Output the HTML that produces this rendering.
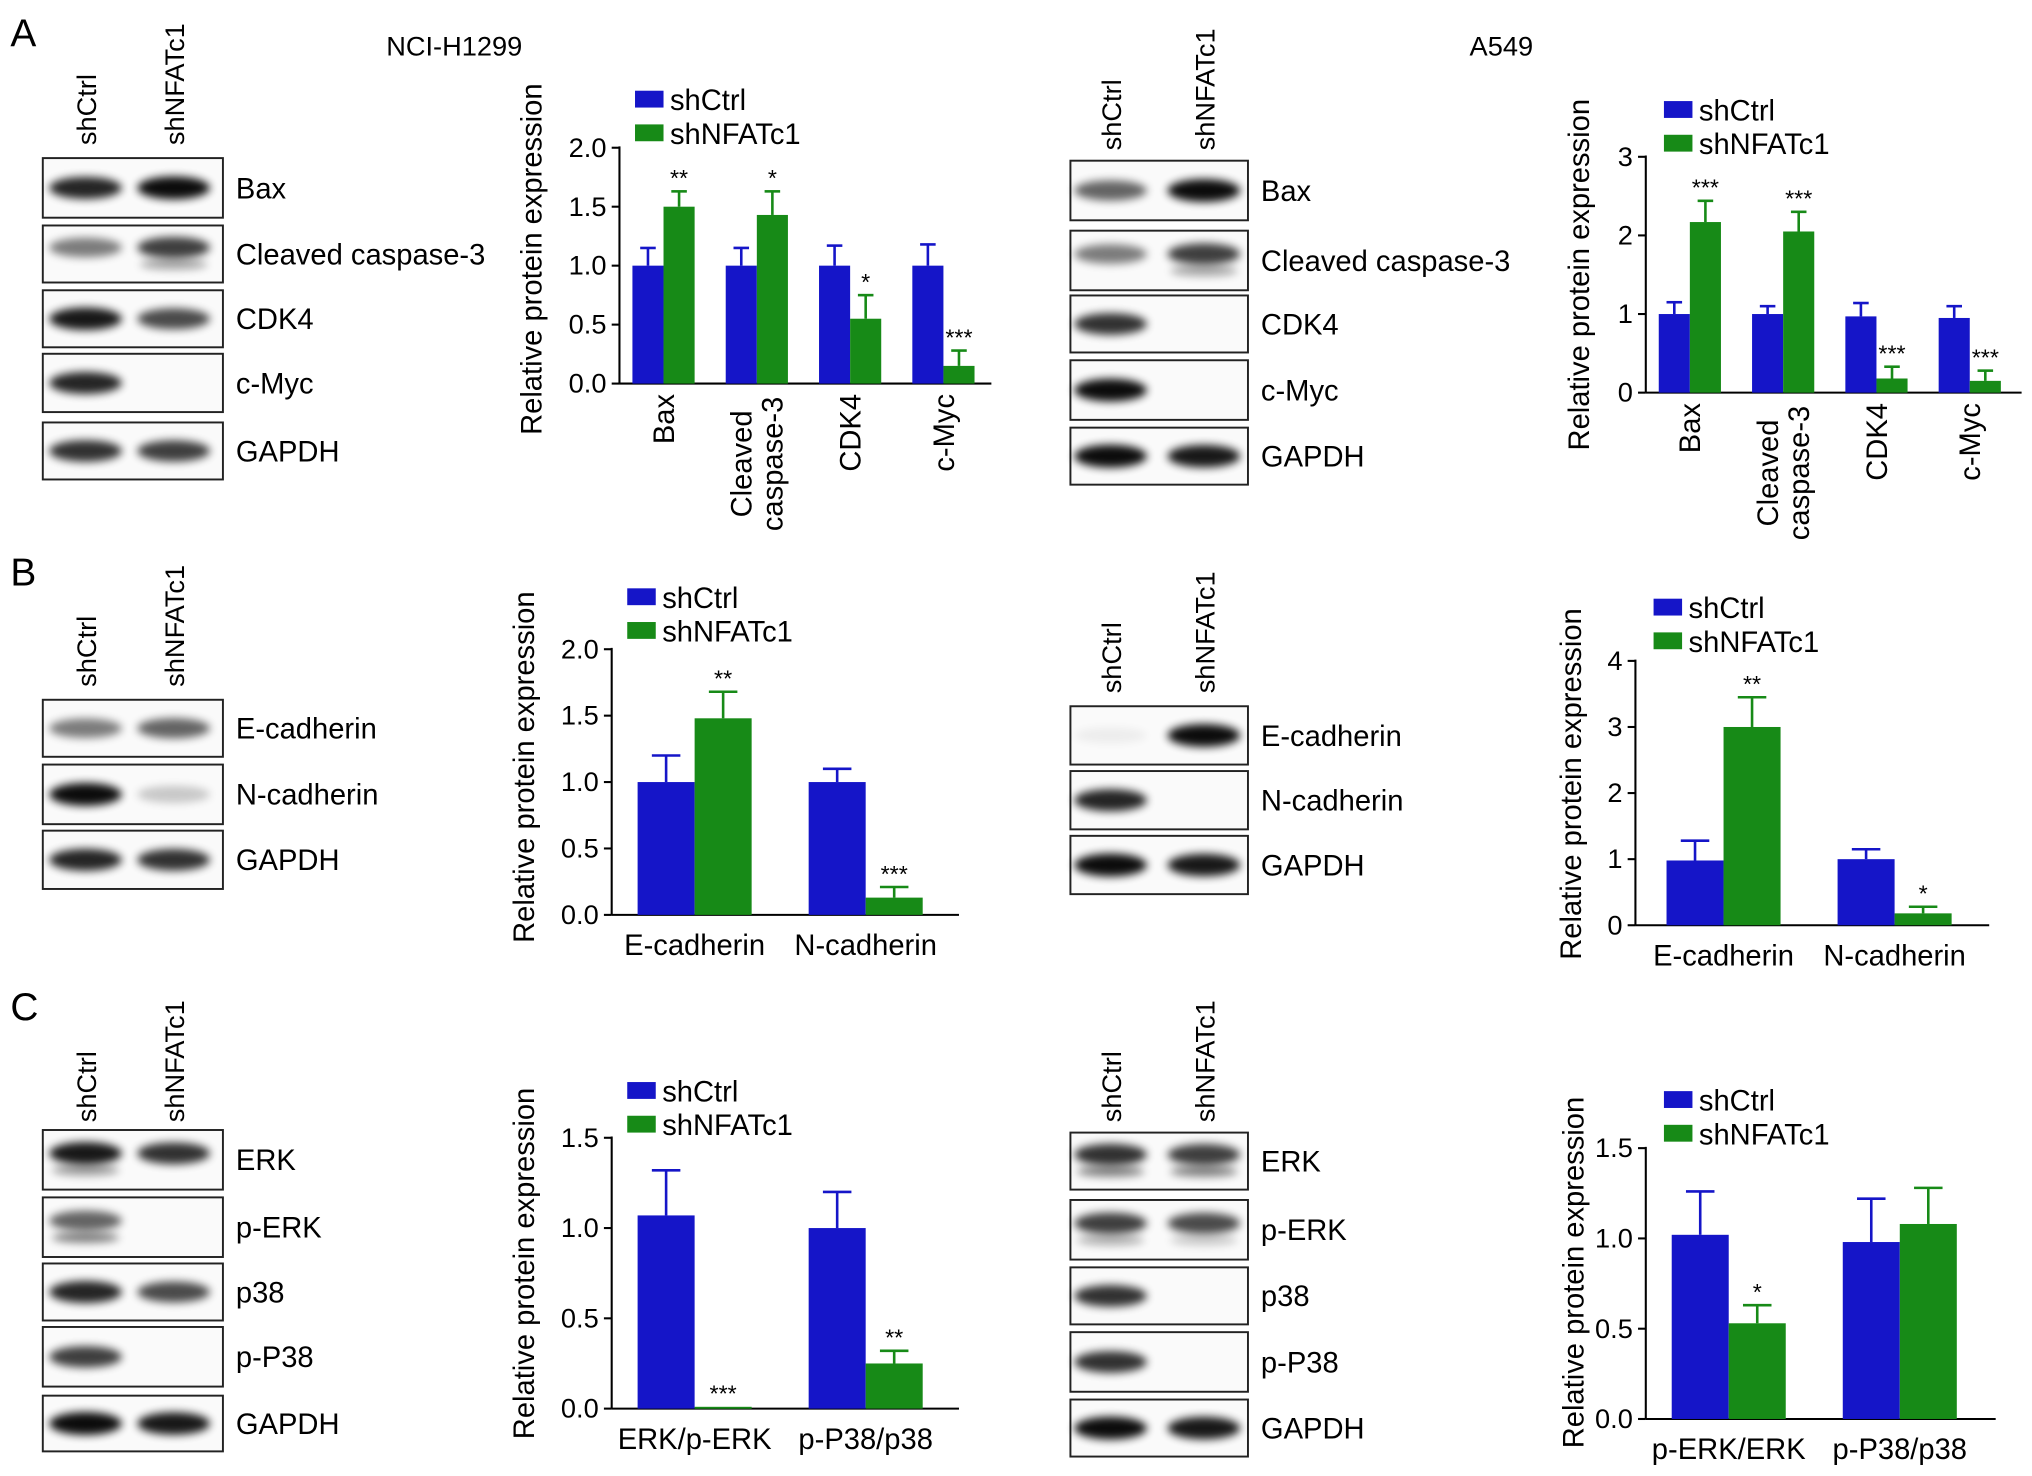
<!DOCTYPE html>
<html><head><meta charset="utf-8">
<style>
html,body{margin:0;padding:0;background:#fff;}
svg{display:block;font-family:"Liberation Sans",Arial,sans-serif;}
</style></head>
<body>
<svg id="fig" width="2032" height="1476" viewBox="0 0 1568 1139" xmlns="http://www.w3.org/2000/svg">
<defs>
<filter id="blur" x="-50%" y="-100%" width="200%" height="300%"><feGaussianBlur stdDeviation="3.2"/></filter>
</defs>
<text x="8" y="36" font-size="30">A</text>
<text x="8" y="452" font-size="30">B</text>
<text x="8" y="787" font-size="30">C</text>
<text x="298" y="43" font-size="21">NCI-H1299</text>
<text x="1134" y="43" font-size="21">A549</text>
</svg>
<script>
// ---------- chart data ----------
const a1Cats = ["Bax", "Cleaved caspase-3", "CDK4", "c-Myc"];
const a1Ctrl = [1.0, 1.0, 1.0, 1.0];
const a1CtrlErr = [0.15, 0.15, 0.17, 0.18];
const a1Sh = [1.5, 1.43, 0.55, 0.15];
const a1ShErr = [0.13, 0.2, 0.2, 0.13];
const a1Sig = ["**", "*", "*", "***"];
const a1Ticks = [0, 0.5, 1.0, 1.5, 2.0];

const a2Cats = ["Bax", "Cleaved caspase-3", "CDK4", "c-Myc"];
const a2Ctrl = [1.0, 1.0, 0.97, 0.95];
const a2CtrlErr = [0.15, 0.1, 0.17, 0.15];
const a2Sh = [2.17, 2.05, 0.18, 0.15];
const a2ShErr = [0.27, 0.25, 0.15, 0.13];
const a2Sig = ["***", "***", "***", "***"];
const a2Ticks = [0, 1, 2, 3];

const b1Cats = ["E-cadherin", "N-cadherin"];
const b1Ctrl = [1.0, 1.0];
const b1CtrlErr = [0.2, 0.1];
const b1Sh = [1.48, 0.13];
const b1ShErr = [0.2, 0.08];
const b1Sig = ["**", "***"];
const b1Ticks = [0, 0.5, 1.0, 1.5, 2.0];

const b2Cats = ["E-cadherin", "N-cadherin"];
const b2Ctrl = [0.98, 1.0];
const b2CtrlErr = [0.3, 0.15];
const b2Sh = [3.0, 0.18];
const b2ShErr = [0.45, 0.1];
const b2Sig = ["**", "*"];
const b2Ticks = [0, 1, 2, 3, 4];

const c1Cats = ["ERK/p-ERK", "p-P38/p38"];
const c1Ctrl = [1.07, 1.0];
const c1CtrlErr = [0.25, 0.2];
const c1Sh = [0.01, 0.25];
const c1ShErr = [0.0, 0.07];
const c1Sig = ["***", "**"];
const c1Ticks = [0, 0.5, 1.0, 1.5];

const c2Cats = ["p-ERK/ERK", "p-P38/p38"];
const c2Ctrl = [1.02, 0.98];
const c2CtrlErr = [0.24, 0.24];
const c2Sh = [0.53, 1.08];
const c2ShErr = [0.1, 0.2];
const c2Sig = ["*", ""];
const c2Ticks = [0, 0.5, 1.0, 1.5];

const BLUE = "#1515c8", GREEN = "#178a17";
const FS = 22.5;
const svg = document.getElementById("fig");
const NS = "http://www.w3.org/2000/svg";
function mk(tag, attrs, parent) {
  const e = document.createElementNS(NS, tag);
  for (const k in attrs) e.setAttribute(k, attrs[k]);
  (parent || svg).appendChild(e);
  return e;
}

function chart(id, g, cats, ctrl, ctrlErr, sh, shErr, sig, ticks) {
  const grp = mk("g", {});
  
  
  const ymax = ticks[ticks.length - 1];
  const ys = v => g.y0 - (v / ymax) * (g.y0 - g.ytop);
  const ya = mk("line", {x1: g.x0, y1: g.ytop - 1, x2: g.x0, y2: g.y0, stroke: "#000", "stroke-width": 1.6}, grp);
  
  
  const xa = mk("line", {x1: g.x0, y1: g.y0, x2: g.xend, y2: g.y0, stroke: "#000", "stroke-width": 1.6}, grp);
  
  
  ticks.forEach(t => {
    const y = ys(t);
    mk("line", {x1: g.x0 - 6, y1: y, x2: g.x0, y2: y, stroke: "#000", "stroke-width": 1.6}, grp);
    const tl = mk("text", {x: g.x0 - 10, y: y + 7, "font-size": 21, "text-anchor": "end"}, grp);
    tl.textContent = g.dec ? t.toFixed(1) : String(t);
    
    
  });
  const yt = mk("text", {x: 0, y: 0, "font-size": FS, "text-anchor": "middle", transform: `translate(${g.ytx},${g.yty}) rotate(-90)`}, grp);
  yt.textContent = "Relative protein expression";
  
  
  cats.forEach((c, i) => {
    const gx = g.gx0 + i * g.gstep;
    [[ctrl[i], ctrlErr[i], BLUE, gx, 'ctrl'], [sh[i], shErr[i], GREEN, gx + g.bw, 'sh']].forEach(([v, e, col, bx, nm], j) => {
      const cx = bx + g.bw / 2;
      const ey = ys(v + e);
      if (e > 0) {
        mk("line", {x1: cx, y1: ys(v), x2: cx, y2: ey, stroke: col, "stroke-width": 2}, grp);
        mk("line", {x1: cx - g.bw * 0.25, y1: ey, x2: cx + g.bw * 0.25, y2: ey, stroke: col, "stroke-width": 2}, grp);
      }
      const r = mk("rect", {x: bx, y: ys(v), width: g.bw, height: Math.max(g.y0 - ys(v), 1.5), fill: col}, grp);
      
      
      if (j === 1 && sig[i]) {
        const s = mk("text", {x: cx, y: ey - 4, "font-size": 18, "text-anchor": "middle"}, grp);
        s.textContent = sig[i];
        
        
      }
    });
    if (g.rot) {
      const cx = gx + g.bw;
      const parts = c === "Cleaved caspase-3" ? ["Cleaved", "caspase-3"] : [c];
      parts.forEach((p, k) => {
        const off = (k - (parts.length - 1) / 2) * 24;
        const lx = cx + off + 8;
        const t = mk("text", {x: 0, y: 0, "font-size": FS, "text-anchor": parts.length > 1 ? "middle" : "end",
          transform: parts.length > 1 ? `translate(${lx},${g.y0 + 62}) rotate(-90)` : `translate(${lx},${g.y0 + 8}) rotate(-90)`}, grp);
        t.textContent = p;
        
        
      });
    } else {
      const t = mk("text", {x: gx + g.bw, y: g.y0 + 31, "font-size": FS, "text-anchor": "middle"}, grp);
      t.textContent = c;
      
      
    }
  });
  [["shCtrl", BLUE], ["shNFATc1", GREEN]].forEach(([n, col], k) => {
    const y = g.ly + k * 26;
    const lr = mk("rect", {x: g.lx, y: y - 8, width: 22, height: 13, fill: col}, grp);
    
    
    const lt = mk("text", {x: g.lx + 27, y: y + 7, "font-size": FS}, grp);
    lt.textContent = n;
    
    
  });
}

chart("a1", {x0: 478, y0: 296, ytop: 114, xend: 765, gx0: 488, gstep: 72, bw: 24, dec: true, rot: true, ytx: 418, yty: 200, lx: 490, ly: 78}, a1Cats, a1Ctrl, a1CtrlErr, a1Sh, a1ShErr, a1Sig, a1Ticks);
chart("a2", {x0: 1270, y0: 303, ytop: 121, xend: 1560, gx0: 1280, gstep: 72, bw: 24, dec: false, rot: true, ytx: 1226, yty: 212, lx: 1284, ly: 86}, a2Cats, a2Ctrl, a2CtrlErr, a2Sh, a2ShErr, a2Sig, a2Ticks);
chart("b1", {x0: 472, y0: 706, ytop: 501, xend: 740, gx0: 492, gstep: 132, bw: 44, dec: true, rot: false, ytx: 412, yty: 592, lx: 484, ly: 462}, b1Cats, b1Ctrl, b1CtrlErr, b1Sh, b1ShErr, b1Sig, b1Ticks);
chart("b2", {x0: 1262, y0: 714, ytop: 510, xend: 1535, gx0: 1286, gstep: 132, bw: 44, dec: false, rot: false, ytx: 1220, yty: 605, lx: 1276, ly: 470}, b2Cats, b2Ctrl, b2CtrlErr, b2Sh, b2ShErr, b2Sig, b2Ticks);
chart("c1", {x0: 472, y0: 1087, ytop: 878, xend: 740, gx0: 492, gstep: 132, bw: 44, dec: true, rot: false, ytx: 412, yty: 975, lx: 484, ly: 843}, c1Cats, c1Ctrl, c1CtrlErr, c1Sh, c1ShErr, c1Sig, c1Ticks);
chart("c2", {x0: 1270, y0: 1095, ytop: 886, xend: 1540, gx0: 1290, gstep: 132, bw: 44, dec: true, rot: false, ytx: 1222, yty: 982, lx: 1284, ly: 850}, c2Cats, c2Ctrl, c2CtrlErr, c2Sh, c2ShErr, c2Sig, c2Ticks);

function blot(id, x, w, lanes, colY, rows) {
  const grp = mk("g", {});
  
  
  ["shCtrl", "shNFATc1"].forEach((n, k) => {
    const t = mk("text", {x: 0, y: 0, "font-size": 21, transform: `translate(${lanes[k] + 8},${colY}) rotate(-90)`}, grp);
    t.textContent = n;
    
    
  });
  rows.forEach(r => {
    const [name, y0, y1, ints, dbl] = r;
    const box = mk("rect", {x: x, y: y0, width: w, height: y1 - y0, fill: "#fafafa", stroke: "#222", "stroke-width": 1.5}, grp);
    
    
    const cy = (y0 + y1) / 2;
    lanes.forEach((lx, k) => {
      const v = ints[k];
      if (v > 0) {
        mk("ellipse", {cx: lx, cy: dbl ? cy - 5 : cy, rx: 28, ry: 6 + 3 * v, fill: "#000", opacity: v, filter: "url(#blur)"}, grp);
        if (dbl && dbl[k] > 0) mk("ellipse", {cx: lx, cy: cy + 8, rx: 26, ry: 4, fill: "#000", opacity: dbl[k], filter: "url(#blur)"}, grp);
      }
    });
    const t = mk("text", {x: x + w + 10, y: cy + 8, "font-size": FS}, grp);
    t.textContent = name;
    
    
  });
}
const L1 = [66, 134], L2 = [857, 929];
blot("a-h1299", 33, 139, L1, 112, [
  ["Bax", 122, 168, [0.85, 0.95]],
  ["Cleaved caspase-3", 174, 218, [0.5, 0.75], [0, 0.35]],
  ["CDK4", 224, 268, [0.9, 0.7]],
  ["c-Myc", 273, 318, [0.85, 0]],
  ["GAPDH", 326, 370, [0.8, 0.75]]
]);
blot("a-a549", 826, 137, L2, 116, [
  ["Bax", 124, 170, [0.6, 0.95]],
  ["Cleaved caspase-3", 178, 224, [0.5, 0.75], [0, 0.35]],
  ["CDK4", 228, 272, [0.8, 0]],
  ["c-Myc", 278, 324, [0.95, 0]],
  ["GAPDH", 330, 374, [0.95, 0.9]]
]);
blot("b-h1299", 33, 139, L1, 530, [
  ["E-cadherin", 540, 584, [0.5, 0.6]],
  ["N-cadherin", 590, 636, [0.95, 0.2]],
  ["GAPDH", 641, 686, [0.85, 0.8]]
]);
blot("b-a549", 826, 137, L2, 535, [
  ["E-cadherin", 545, 590, [0.05, 0.95]],
  ["N-cadherin", 595, 640, [0.85, 0]],
  ["GAPDH", 645, 690, [0.95, 0.9]]
]);
blot("c-h1299", 33, 139, L1, 866, [
  ["ERK", 872, 918, [0.9, 0.8], [0.4, 0]],
  ["p-ERK", 924, 970, [0.6, 0], [0.5, 0]],
  ["p38", 975, 1019, [0.85, 0.7]],
  ["p-P38", 1024, 1070, [0.75, 0]],
  ["GAPDH", 1077, 1120, [0.95, 0.9]]
]);
blot("c-a549", 826, 137, L2, 866, [
  ["ERK", 874, 918, [0.8, 0.75], [0.5, 0.5]],
  ["p-ERK", 926, 972, [0.75, 0.7], [0.3, 0.2]],
  ["p38", 978, 1022, [0.8, 0]],
  ["p-P38", 1028, 1074, [0.8, 0]],
  ["GAPDH", 1080, 1124, [0.95, 0.9]]
]);
</script>
</body></html>
